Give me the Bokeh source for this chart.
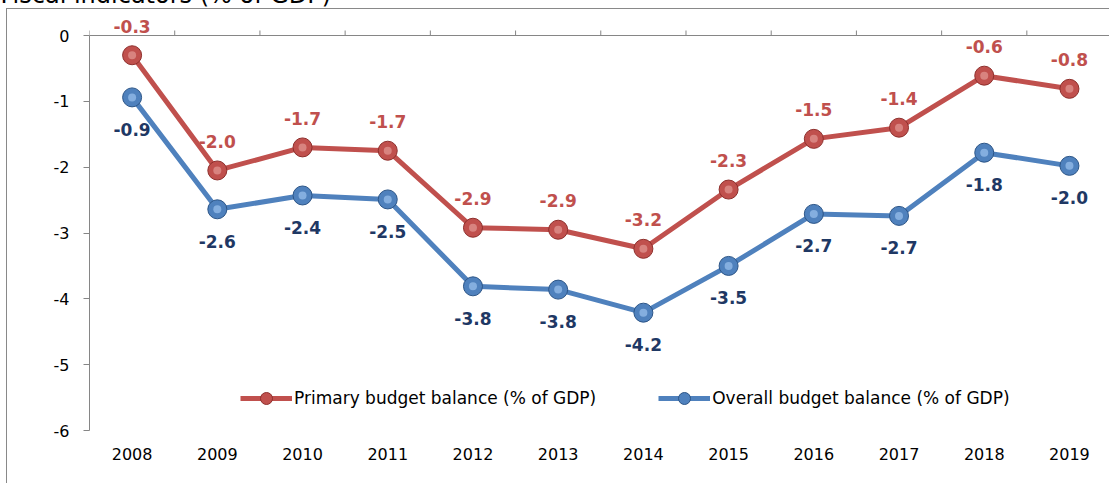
from bokeh.plotting import figure
from bokeh.models import (Range1d, FixedTicker, ColumnDataSource, LabelSet,
                          Legend, LegendItem, Span)
from bokeh.embed import file_html
from bokeh.resources import INLINE
from bokeh.core.properties import value

years = ["2008", "2009", "2010", "2011", "2012", "2013", "2014", "2015", "2016", "2017", "2018", "2019"]
primary = [-0.30, -2.05, -1.70, -1.75, -2.92, -2.95, -3.24, -2.34, -1.57, -1.40, -0.61, -0.81]
overall = [-0.94, -2.64, -2.43, -2.49, -3.81, -3.86, -4.21, -3.50, -2.71, -2.74, -1.78, -1.98]
primary_labels = ["-0.3", "-2.0", "-1.7", "-1.7", "-2.9", "-2.9", "-3.2", "-2.3", "-1.5", "-1.4", "-0.6", "-0.8"]
overall_labels = ["-0.9", "-2.6", "-2.4", "-2.5", "-3.8", "-3.8", "-4.2", "-3.5", "-2.7", "-2.7", "-1.8", "-2.0"]
y_ticks = [0, -1, -2, -3, -4, -5, -6]
title_text = "Fiscal indicators (% of GDP)"
series_names = ["Primary budget balance (% of GDP)", "Overall budget balance (% of GDP)"]

FONT = "DejaVu Sans"
RED, RED_DARK, RED_LIGHT = "#C0504D", "#8E2F2C", "#E8A5A2"
BLUE, BLUE_DARK, BLUE_LIGHT = "#4F81BD", "#2C5587", "#A9CDF5"
RED_TXT, BLUE_TXT = "#C0504D", "#1F3864"
AXIS = "#868686"
BORDER = "#898989"

D = 40                      # canvas is shifted up by D px (title is cut off at the top)
W, H = 1109, 483 + D
FRAME_TOP, FRAME_BOTTOM = 10, 430   # page pixels
Y_ZERO_PX = 35                       # page pixel of y = 0
px_per_unit = (FRAME_BOTTOM - Y_ZERO_PX) / (0 - min(y_ticks))
Y_TOP = (Y_ZERO_PX - FRAME_TOP) / px_per_unit

xs = list(range(1, len(years) + 1))
src = ColumnDataSource(dict(x=xs, p=primary, o=overall, pl=primary_labels, ol=overall_labels))

p = figure(width=W, height=H, x_range=Range1d(0.5, 12.47), y_range=Range1d(min(y_ticks), Y_TOP),
           output_backend="svg", toolbar_location=None,
           min_border_left=89, min_border_right=0, min_border_top=FRAME_TOP + D,
           min_border_bottom=483 - FRAME_BOTTOM,
           x_axis_location="below", y_axis_location="left")
p.styles = {
    "position": "relative", "top": f"-{D}px",
    "background-color": "white",
    "background-image": f"linear-gradient({BORDER}, {BORDER}), linear-gradient({BORDER}, {BORDER})",
    "background-size": "1px 100%, 100% 1px",
    "background-position": f"6px {8 + D}px, 6px {8 + D}px",
    "background-repeat": "no-repeat",
}
p.outline_line_color = None
p.xgrid.grid_line_color = None
p.ygrid.grid_line_color = None
p.background_fill_color = None
p.border_fill_color = None

# title
p.title.text = title_text
p.title.text_font = FONT
p.title.text_font_size = "24px"
p.title.text_font_style = "normal"
p.title.text_color = "#000000"
p.title.align = "left"
p.title.offset = -89
p.title.standoff = 3

# y axis
ya = p.yaxis[0]
ya.ticker = FixedTicker(ticks=y_ticks)
ya.major_label_overrides = {t: str(t) for t in y_ticks}
ya.bounds = (min(y_ticks), max(y_ticks))
ya.axis_line_color = AXIS
ya.major_tick_line_color = AXIS
ya.major_tick_out = 6
ya.major_tick_in = 0
ya.minor_tick_line_color = None
ya.major_label_text_font = FONT
ya.major_label_text_font_size = "16px"
ya.major_label_text_color = "#000000"
ya.major_label_standoff = 14

# bottom axis: labels only
xa = p.xaxis[0]
xa.ticker = FixedTicker(ticks=xs)
xa.major_label_overrides = {x: y for x, y in zip(xs, years)}
xa.axis_line_color = None
xa.major_tick_line_color = None
xa.minor_tick_line_color = None
xa.major_tick_out = 0
xa.major_tick_in = 0
xa.major_label_standoff = 17
xa.major_label_text_font = FONT
xa.major_label_text_font_size = "16px"
xa.major_label_text_color = "#000000"

# zero line with category-boundary tick marks
p.add_layout(Span(location=0, dimension="width", line_color=AXIS, line_width=1))
bounds_x = [i + 0.5 for i in range(len(years) + 1)]
p.segment(x0=bounds_x, y0=[0] * len(bounds_x), x1=bounds_x,
          y1=[5 / px_per_unit] * len(bounds_x), line_color=AXIS, line_width=1)

# series
r_line = p.line("x", "p", source=src, line_color=RED, line_width=5)
r_pt = p.scatter("x", "p", source=src, size=19, fill_color=RED, line_color=RED_DARK, line_width=1)
p.scatter("x", "p", source=src, size=8, fill_color=RED_LIGHT, fill_alpha=0.6, line_color=None)
b_line = p.line("x", "o", source=src, line_color=BLUE, line_width=5)
b_pt = p.scatter("x", "o", source=src, size=19, fill_color=BLUE, line_color=BLUE_DARK, line_width=1)
p.scatter("x", "o", source=src, size=8, fill_color=BLUE_LIGHT, fill_alpha=0.6, line_color=None)

p.add_layout(LabelSet(x="x", y="p", text="pl", source=src, y_offset=29, text_align="center",
                      text_baseline="middle", text_font=value(FONT), text_font_size="17px",
                      text_font_style="bold", text_color=RED_TXT))
p.add_layout(LabelSet(x="x", y="o", text="ol", source=src, y_offset=-32, text_align="center",
                      text_baseline="middle", text_font=value(FONT), text_font_size="17px",
                      text_font_style="bold", text_color=BLUE_TXT))

legend = Legend(items=[LegendItem(label=series_names[0], renderers=[r_line, r_pt]),
                       LegendItem(label=series_names[1], renderers=[b_line, b_pt])],
                orientation="horizontal", location=(240 - 89, 17),
                glyph_width=52, glyph_height=30, label_standoff=2, spacing=62,
                padding=0, margin=0, border_line_color=None, background_fill_alpha=0,
                label_text_font=FONT, label_text_font_size="17px", label_text_color="#000000")
p.add_layout(legend, "center")

open("out.html", "w").write(file_html(p, INLINE))
